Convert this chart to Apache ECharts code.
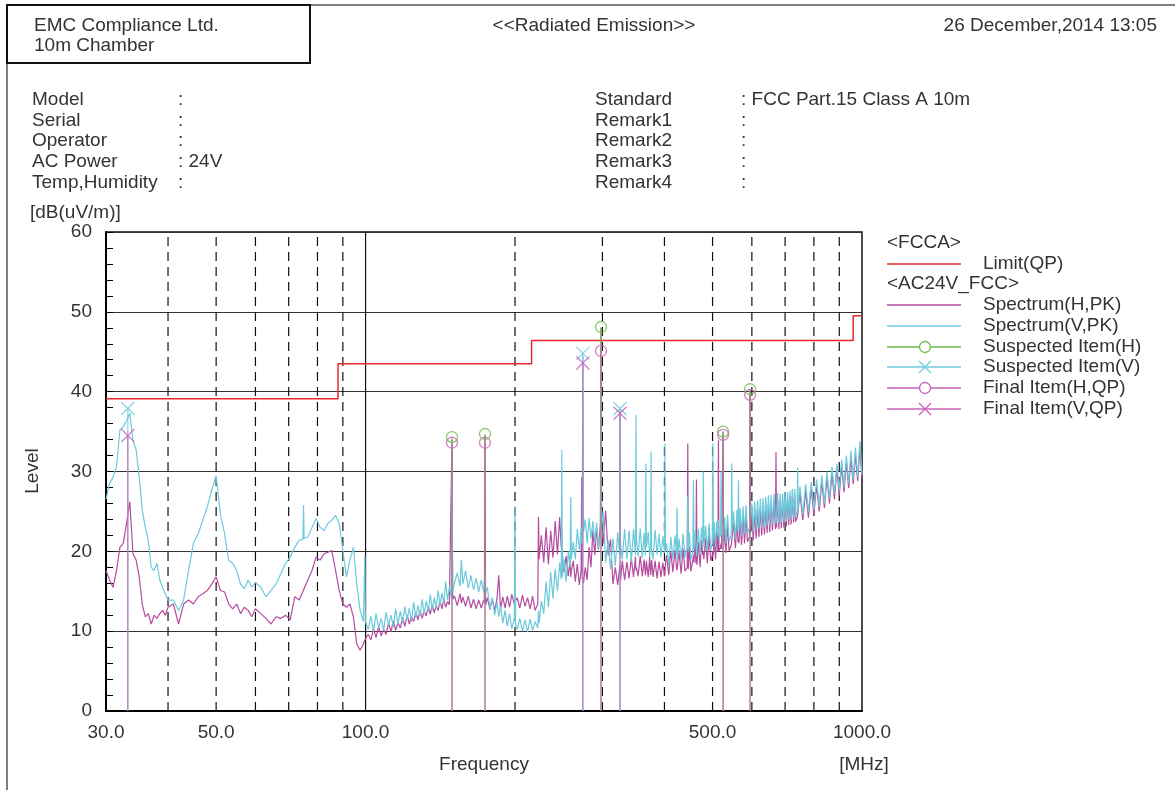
<!DOCTYPE html>
<html><head><meta charset="utf-8">
<script src="https://cdn.jsdelivr.net/npm/echarts@6.0.0/dist/echarts.min.js"></script>
<style>html,body{margin:0;padding:0;background:#fff}#c{width:1175px;height:790px}</style>
</head><body><div id="c"></div>
<script>
// ---------- data (MHz / dB(uV/m)) ----------
const freqs = [
30,30.5,31,31.5,32,32.5,33,33.5,34,34.5,35,35.5,36,36.5,37,37.5,38,38.5,39,39.5,40,
41,42,43,44,45,46,47,48,49,50,51,52,53,54,55,56,57,58,59,60,
61.5,63,64.5,66,67.5,69,70.5,72,73.5,74.8,75,75.2,76.5,78,79.5,81,82.5,84,85.5,87,88.5,90,91.5,93,94.5,96,97.5,99,99.5,99.7,99.9,100.5,
101.25,102.5,103.75,105,106.25,107.5,108.75,110,111.25,112.5,113.75,115,116.25,117.5,118.75,120,121.25,122.5,123.75,125,126.25,127.5,128.75,130,131.25,132.5,133.75,135,136.25,137.5,138.75,140,141.25,142.5,143.75,145,146.25,147.5,148.8,149.3,149.8,
151,153,155,156,157,159,161,163,165,167,169,171,173,173.5,174,174.5,176,178,180,182,184,185.5,187,189,191,193,195,197,199.4,200,200.6,
202,204.5,207,209.5,212,214.5,217,219.5,222.3,223,223.7,226,228.5,231,233.5,236,238.5,241,243.5,246,247.8,248.5,249.2,251,253.5,256,258.2,259,259.8,262,264.5,267,269.5,271.8,272.5,273.2,274,274.8,277,279.5,282,284.5,287,289.5,292,294.5,297.2,298,298.8,301,304.5,308,311.5,315,318.5,322,324.8,325.5,326.2,329,332.5,336,339.5,343,346.5,349.7,350.5,351.3,354,357.5,361,364,366.2,367,367.8,371,373.5,375.2,376,376.8,379.5,383,386.5,390,393.5,397,400.2,401,401.8,
404,408,412,416,420,423,424,425,428,432,
436,440,444.6,445.7,446.8,449,452,456.4,457.5,458.6,
461,462.9,464,465.1,468,472,475,477.8,479,480.2,
484,488,492,496,499.5,500.7,501.9,504,507,510,
512.6,513.8,515,518.8,520,521.2,523.8,525,526.2,529,
532,536,540,545.3,546.6,547.9,551,556,560,562.7,
564,565.3,568,572,576,580,584,588,593.6,595,
596.4,600,604,608,612,616,620,624,628,632,
636,640,644,648,652,656,660,665,669.4,671,
672.6,676,680,684,688,692,696,700,704,708,
712,716,720,724,728,732,735,740.2,742,743.8,
750,760,770,780,790,800,810,820,830,840,
850,860,870,880,890,900,910,920,930,940,
950,960,970,980,990,1000
];
const spectrumH = [
17.6,16.4,15.5,17.6,20.5,21,23.5,26.2,19.7,18.9,16.8,13.4,11.8,12.2,10.9,12,11.6,12.2,12.6,12,13,
13.4,10.9,13.4,13.9,13.4,14.3,14.7,15.1,15.9,16.8,15.1,14.9,13.4,12.8,13.4,12.2,13,12.6,11.8,12.8,
12.2,11.6,10.9,11.8,11.6,12,11.4,14.3,13.9,15.0,15.1,15.2,16.4,17.6,19.3,18.9,19.7,19.9,20.1,17.6,15.1,13.4,13,13.4,11.8,8.4,7.6,8.4,8.8,8.9,9.0,9.3,
9.6,8.9,10.3,9.2,10.6,9.4,10.2,9.6,11.0,9.9,11.3,10.1,11.1,10.4,11.7,10.6,12.0,10.9,11.8,11.2,12.4,11.4,12.6,11.6,12.5,11.9,13.1,12.1,13.3,12.3,13.2,12.6,13.8,12.8,14.0,13.0,13.7,13.3,13.5,34.0,14.0,
14.4,13.2,14.7,13.5,14.3,13.1,14.4,12.9,14.0,12.8,13.9,12.9,13.9,13.6,34.5,13.3,14.2,12.7,14.0,12.6,14.1,17.0,12.8,14.3,12.9,14.4,13.0,14.6,13.4,14.4,13.8,
14.2,12.9,14.5,13.1,14.2,12.8,14.4,12.6,13.4,24.3,19.0,22.0,18.6,23.0,18.4,22.6,19.2,23.8,19.6,24.3,20.5,21.5,19.6,17.4,19.4,16.9,18.9,16.8,17.6,18.8,16.2,18.4,15.8,17.6,29.3,16.5,16.8,16.0,18.0,16.4,20.5,18.0,22.6,19.5,23.0,20.2,23.5,48.0,24.0,21.0,25.1,19.5,21.5,15.9,18.0,15.8,17.8,18.5,16.3,18.8,16.4,18.7,16.6,19.2,16.8,19.3,17.6,18.0,16.9,19.4,16.9,19.0,17.0,17.6,18.8,16.8,19.3,17.0,17.2,18.9,16.8,18.8,16.6,18.7,16.8,18.6,16.9,17.2,18.4,
19.5,17.0,20.0,17.4,20.2,18.0,17.6,17.5,20.0,17.2,
20.4,17.5,18.0,33.5,17.8,20.6,17.5,19.0,19.5,18.6,
21.0,18.5,29.0,18.3,21.2,18.0,21.4,19.5,20.0,19.0,
21.6,18.5,22.0,18.8,19.5,20.0,19.5,22.2,19.0,22.5,
20.0,33.9,20.0,20.5,21.0,20.3,20.5,35.0,20.5,22.8,
19.8,23.2,20.0,20.8,21.0,21.0,23.6,20.4,23.8,21.2,
21.5,21.0,24.2,20.8,24.4,21.0,24.6,21.2,21.8,40.3,
22.3,24.8,21.4,25.0,21.6,25.2,21.8,25.4,22.0,25.6,
22.1,25.7,22.3,25.9,22.4,26.0,22.6,26.2,22.8,32.4,
23.0,26.4,22.8,26.4,22.9,26.5,23.0,26.6,23.1,26.7,
23.3,26.9,23.4,27.0,23.6,27.1,23.7,24.2,24.6,24.4,
27.3,23.9,27.6,24.2,28.0,24.6,28.3,25.0,28.8,25.4,
29.3,26.0,29.8,26.5,30.3,27.0,30.8,27.4,31.3,27.9,
31.8,28.4,32.2,28.8,32.8,29.2
];
const spectrumV = [
26.5,28.5,29.3,30.6,35.2,35.6,36.4,37.3,33.9,32.7,29.3,25.1,23,21.4,18,17.6,18.5,16.4,15.5,14.7,13.9,
13.9,12.6,13.9,17.6,21,22.2,23.9,25.6,27.7,29.5,24.7,22.2,18.9,18.5,17.6,15.9,15.3,16.4,15.5,16.1,
15.5,14.3,15.1,15.9,17.2,18.5,19.3,20.5,21.4,21.5,25.8,21.6,21.8,23,24.1,23,22.6,23.5,23.9,24.5,23.5,20.1,16.8,18.9,20.5,15.9,12.6,11.2,11.0,19.5,11.2,11.0,
10.2,11.9,10.0,12.2,10.4,11.6,10.1,12.4,10.7,12.0,10.5,12.8,10.9,12.5,11.0,13.1,11.4,12.9,11.2,13.6,11.7,13.2,11.9,14.0,12.2,13.8,12.4,14.6,12.6,14.2,12.9,15.1,13.3,14.8,13.5,16.2,13.9,15.6,14.2,28.7,15.0,
16.0,17.3,15.6,18.9,15.9,17.6,15.4,17.0,15.2,16.6,14.9,16.4,14.8,15.0,17.6,14.8,15.5,12.8,14.2,12.0,13.6,11.8,13.2,11.0,12.6,10.6,12.2,10.3,11.6,25.6,10.8,
10.2,11.6,10.0,11.4,9.9,11.5,10.1,11.2,10.4,12.6,11.0,13.8,12.2,16.2,13.0,17.4,14.1,17.8,15.0,18.6,16.5,32.7,16.8,19.0,16.2,20.0,18.0,26.8,19.0,21.2,19.0,22.8,20.2,23.0,21.0,21.8,44.5,22.5,24.0,21.0,24.2,21.6,23.8,21.2,23.6,20.4,22.0,40.6,23.0,25.0,18.6,21.4,17.8,21.6,18.2,22.4,19.5,37.6,21.0,19.0,22.8,19.0,22.6,18.6,22.8,19.5,37.1,21.5,19.4,22.9,19.2,22.3,19.5,31.0,20.5,22.4,19.3,21.0,32.5,20.0,19.0,22.7,19.6,22.2,19.3,21.9,19.8,33.5,20.0,
21.0,18.2,21.8,19.0,22.0,19.5,25.5,19.0,21.6,18.8,
22.2,19.2,20.5,27.0,20.0,22.4,19.0,20.0,28.9,20.3,
22.6,21.0,19.4,20.0,22.8,19.6,23.0,21.0,30.0,20.5,
23.2,20.0,23.5,20.2,21.0,33.5,21.5,23.6,20.5,23.8,
22.0,24.0,21.5,22.0,30.0,22.0,22.5,21.0,22.0,24.3,
21.0,24.6,21.3,22.0,31.0,22.5,25.0,21.5,25.2,22.5,
28.9,22.5,25.4,22.0,25.6,22.2,25.8,22.2,23.0,25.8,
24.0,26.0,22.5,26.2,22.7,26.4,22.8,26.6,23.0,26.7,
23.0,26.8,23.2,27.0,23.2,27.1,23.4,27.2,24.0,23.5,
24.2,27.3,23.5,27.2,23.6,27.2,23.7,27.4,23.8,27.4,
24.0,27.6,24.0,27.8,24.2,27.8,24.3,25.0,30.5,25.3,
28.1,24.6,28.4,24.9,28.7,25.2,29.0,25.6,29.5,26.0,
30.0,26.6,30.6,27.2,31.0,27.6,31.5,28.0,32.0,28.5,
32.6,29.0,33.0,29.3,33.8,29.6
];
const limitFreqs = [30, 88, 216, 960, 1000];
const limitLevels = [39.1, 43.5, 46.4, 49.5, 49.5];
const suspHFreqs = [149.3, 174, 298, 525, 595];
const suspHLevels = [34.3, 34.7, 48.1, 35.0, 40.3];
const suspVFreqs = [33.2, 274, 325.5];
const suspVLevels = [37.9, 44.8, 37.9];
const finalHFreqs = [149.3, 174, 298, 525, 595];
const finalHLevels = [33.6, 33.6, 45.1, 34.6, 39.6];
const finalVFreqs = [33.2, 274, 325.5];
const finalVLevels = [34.5, 43.6, 37.3];
const xTickValues = [30, 50, 100, 500, 1000];
const dashedGridFreqs = [40, 50, 60, 70, 80, 90, 200, 300, 400, 500, 600, 700, 800, 900];
const solidGridFreqs = [100];

const infoLeftLabels = ['Model', 'Serial', 'Operator', 'AC Power', 'Temp,Humidity'];
const infoLeftValues = ['', '', '', '24V', ''];
const infoRightLabels = ['Standard', 'Remark1', 'Remark2', 'Remark3', 'Remark4'];
const infoRightValues = ['FCC Part.15 Class A 10m', '', '', '', ''];

if (freqs.length !== spectrumH.length || freqs.length !== spectrumV.length) {
  console.error('length mismatch', freqs.length, spectrumH.length, spectrumV.length);
}

// ---------- styles ----------
const FONT = '"Liberation Sans", Arial, sans-serif';
const TXT = '#333';
const C_H = '#b64c9f';
const C_V = '#6ccadb';
const C_LIM = '#e8292b';
const C_SH = '#68bd45';
const C_FIN = '#c863b8';

const pair = (fs, ls) => fs.map((f, i) => [f, ls[i]]);

function stems(fs, ls, color, z) {
  return {
    type: 'custom', z, silent: true, data: pair(fs, ls), encode: {x: 0, y: 1},
    renderItem: (p, api) => {
      const a = api.coord([api.value(0), 0]);
      const b = api.coord([api.value(0), api.value(1)]);
      return {type: 'line', shape: {x1: a[0], y1: a[1], x2: b[0], y2: b[1]}, style: {stroke: color, lineWidth: 1}};
    }
  };
}
function vgrid(fs, dashed) {
  return {
    type: 'custom', z: 1, silent: true, data: fs.map(f => [f, 0]), encode: {x: 0, y: 1},
    renderItem: (p, api) => {
      const a = api.coord([api.value(0), 0]);
      const b = api.coord([api.value(0), 60]);
      return {type: 'line', shape: {x1: a[0], y1: a[1], x2: b[0], y2: b[1]},
        style: {stroke: '#111', lineWidth: 1.2, lineDash: dashed ? [9, 6] : null}};
    }
  };
}
const XPATH = 'path://M0,0L10,10M10,0L0,10';

function t(text, x, y, align, extra) {
  return Object.assign({type: 'text', x, y, silent: true,
    style: {text, font: '19px ' + FONT, fill: TXT, textAlign: align || 'left', textVerticalAlign: 'middle'}}, extra || {});
}
const graphics = [];
graphics.push({type: 'line', shape: {x1: 7, y1: 5, x2: 1175, y2: 5}, style: {stroke: '#555', lineWidth: 1.5}});
graphics.push({type: 'line', shape: {x1: 7, y1: 5, x2: 7, y2: 790}, style: {stroke: '#555', lineWidth: 1.5}});
graphics.push({type: 'rect', shape: {x: 7, y: 5, width: 303, height: 58}, style: {fill: 'none', stroke: '#111', lineWidth: 2}});
graphics.push(t('EMC Compliance Ltd.', 34, 26));
graphics.push(t('10m Chamber', 34, 46));
graphics.push(t('<<Radiated Emission>>', 594, 26, 'center'));
graphics.push(t('26 December,2014 13:05', 1157, 26, 'right'));
const rowY = [100, 121, 141, 162, 183];
infoLeftLabels.forEach((s, i) => {
  graphics.push(t(s, 32, rowY[i]));
  graphics.push(t(':' + (infoLeftValues[i] ? ' ' + infoLeftValues[i] : ''), 178, rowY[i]));
});
infoRightLabels.forEach((s, i) => {
  graphics.push(t(s, 595, rowY[i]));
  graphics.push(t(':' + (infoRightValues[i] ? ' ' + infoRightValues[i] : ''), 741, rowY[i]));
});
graphics.push(t('[dB(uV/m)]', 30, 213));
graphics.push(t('Level', 33, 471, 'center', {rotation: Math.PI / 2}));
graphics.push(t('Frequency', 484, 765, 'center'));
graphics.push(t('[MHz]', 864, 765, 'center'));

// legend
const LX1 = 887, LX2 = 961, LS = 925, LT = 983;
graphics.push(t('<FCCA>', 887, 243));
graphics.push(t('<AC24V_FCC>', 887, 284));
const legendItems = [
  {name: 'Limit(QP)', y: 264, color: C_LIM, sym: null},
  {name: 'Spectrum(H,PK)', y: 305, color: C_H, sym: null},
  {name: 'Spectrum(V,PK)', y: 326, color: C_V, sym: null},
  {name: 'Suspected Item(H)', y: 347, color: C_SH, sym: 'o'},
  {name: 'Suspected Item(V)', y: 367, color: C_V, sym: 'x'},
  {name: 'Final Item(H,QP)', y: 388, color: C_FIN, sym: 'o'},
  {name: 'Final Item(V,QP)', y: 409, color: C_FIN, sym: 'x'}
];
legendItems.forEach(it => {
  graphics.push({type: 'line', shape: {x1: LX1, y1: it.y, x2: LX2, y2: it.y}, style: {stroke: it.color, lineWidth: 1.5}});
  if (it.sym === 'o') graphics.push({type: 'circle', shape: {cx: LS, cy: it.y, r: 5.5}, style: {fill: '#fff', stroke: it.color, lineWidth: 1.3}});
  if (it.sym === 'x') {
    graphics.push({type: 'line', shape: {x1: LS - 6, y1: it.y - 6, x2: LS + 6, y2: it.y + 6}, style: {stroke: it.color, lineWidth: 1.3}});
    graphics.push({type: 'line', shape: {x1: LS - 6, y1: it.y + 6, x2: LS + 6, y2: it.y - 6}, style: {stroke: it.color, lineWidth: 1.3}});
  }
  graphics.push(t(it.name, LT, it.y));
});

const chart = echarts.init(document.getElementById('c'), null, {renderer: 'canvas'});
chart.setOption({
  animation: false,
  backgroundColor: '#fff',
  grid: {left: 106, right: 313, top: 232, bottom: 79, show: true, borderColor: '#111', borderWidth: 1.5, backgroundColor: 'transparent'},
  xAxis: {
    type: 'log', logBase: 10, min: 30, max: 1000,
    axisLine: {show: true, onZero: false, lineStyle: {color: '#000', width: 2}},
    axisTick: {show: false}, splitLine: {show: false}, minorSplitLine: {show: false},
    axisLabel: {customValues: xTickValues, formatter: v => Number(v).toFixed(1), fontSize: 19, fontFamily: FONT, color: TXT, margin: 12, showMinLabel: true, showMaxLabel: true}
  },
  yAxis: {
    type: 'value', min: 0, max: 60, interval: 10,
    axisLine: {show: true, lineStyle: {color: '#000', width: 2}},
    axisTick: {show: true, inside: true, length: 7, lineStyle: {color: '#000'}},
    minorTick: {show: true, splitNumber: 5, length: 7, lineStyle: {color: '#000'}},
    splitLine: {show: true, lineStyle: {color: '#333', width: 1}},
    axisLabel: {fontSize: 19, fontFamily: FONT, color: TXT, margin: 14}
  },
  graphic: graphics,
  series: [
    vgrid(dashedGridFreqs, true),
    vgrid(solidGridFreqs, false),
    {type: 'line', z: 2, data: pair(freqs, spectrumH), showSymbol: false, symbol: 'none', lineStyle: {color: C_H, width: 1.2}, silent: true},
    {type: 'line', z: 3, data: pair(freqs, spectrumV), showSymbol: false, symbol: 'none', lineStyle: {color: C_V, width: 1.2}, silent: true},
    {type: 'line', z: 4, data: pair(limitFreqs, limitLevels), step: 'end', showSymbol: false, symbol: 'none', lineStyle: {color: C_LIM, width: 1.5}, silent: true},
    stems(suspHFreqs, suspHLevels, C_SH, 5),
    stems(suspVFreqs, suspVLevels, C_V, 5),
    stems(finalHFreqs, finalHLevels, C_FIN, 6),
    stems(finalVFreqs, finalVLevels, C_FIN, 6),
    {type: 'scatter', z: 7, data: pair(suspHFreqs, suspHLevels), symbol: 'circle', symbolSize: 11, itemStyle: {color: 'rgba(255,255,255,0)', borderColor: C_SH, borderWidth: 1.3}, silent: true},
    {type: 'scatter', z: 7, data: pair(suspVFreqs, suspVLevels), symbol: XPATH, symbolSize: 13, itemStyle: {color: 'rgba(255,255,255,0)', borderColor: C_V, borderWidth: 1.3}, silent: true},
    {type: 'scatter', z: 8, data: pair(finalHFreqs, finalHLevels), symbol: 'circle', symbolSize: 11, itemStyle: {color: 'rgba(255,255,255,0)', borderColor: C_FIN, borderWidth: 1.3}, silent: true},
    {type: 'scatter', z: 8, data: pair(finalVFreqs, finalVLevels), symbol: XPATH, symbolSize: 13, itemStyle: {color: 'rgba(255,255,255,0)', borderColor: C_FIN, borderWidth: 1.3}, silent: true}
  ]
});
</script></body></html>
